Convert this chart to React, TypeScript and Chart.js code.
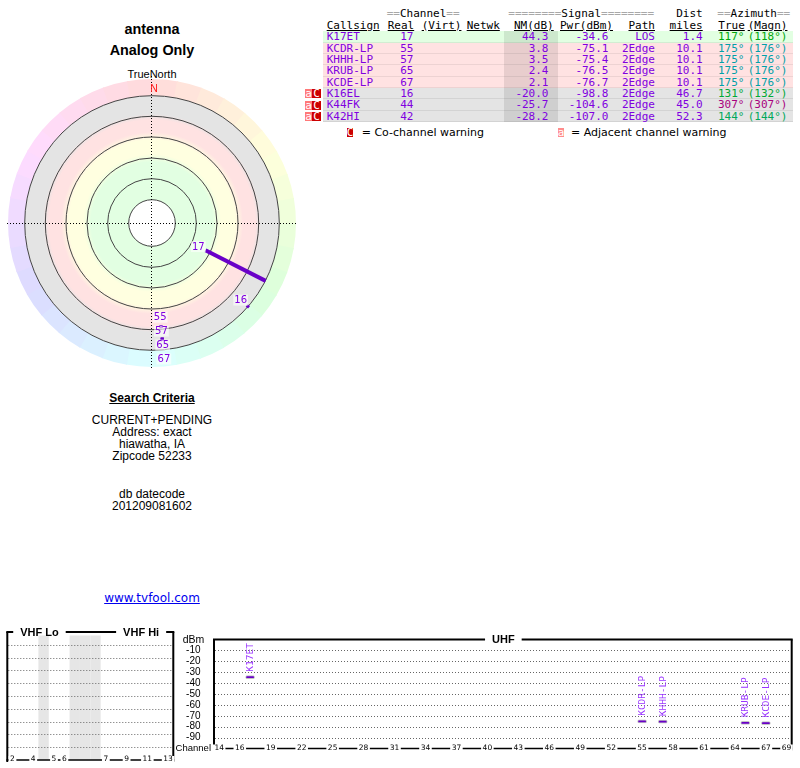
import React, { useEffect, useRef } from 'react';
import { Chart, registerables } from 'chart.js';
Chart.register(...registerables);

const SANS = '"Liberation Sans", Arial, Helvetica, sans-serif';
const MONO = '"DejaVu Sans Mono", monospace';
const DJ = '"DejaVu Sans", sans-serif';
const PURPLE = '#8000e0';
const BAR_PURPLE = '#6a00c8';
const LABEL_PURPLE = '#9933ff';

// ---------- station table ----------
const callsigns = ['K17ET', 'KCDR-LP', 'KHHH-LP', 'KRUB-LP', 'KCDE-LP', 'K16EL', 'K44FK', 'K42HI'];
const realChannels = [17, 55, 57, 65, 67, 16, 44, 42];
const nmDb = [44.3, 3.8, 3.5, 2.4, 2.1, -20.0, -25.7, -28.2];
const pwrDbm = [-34.6, -75.1, -75.4, -76.5, -76.7, -98.8, -104.6, -107.0];
const paths = ['LOS', '2Edge', '2Edge', '2Edge', '2Edge', '2Edge', '2Edge', '2Edge'];
const distMiles = [1.4, 10.1, 10.1, 10.1, 10.1, 46.7, 45.0, 52.3];
const azTrue = [117, 175, 175, 175, 175, 131, 307, 144];
const azMagn = [118, 176, 176, 176, 176, 132, 307, 144];
const rowZone = ['green', 'red', 'red', 'red', 'red', 'gray', 'gray', 'gray'];
const warnings = ['', '', '', '', '', 'aC', 'aC', 'aC'];

// ---------- polar plot (radius in plot units, outer ring = 127.3) ----------
const polarChannels = [17, 55, 57, 65, 67, 16];
const polarBearing = [117, 175, 175, 175, 175, 131];
const polarInner = [60, 102.5, 102.5, 115, 115, 125.5];
const polarOuter = [127.5, 105.5, 105.5, 118, 118, 128.5];
const ringRadii = [23.3, 44.3, 65, 86, 106.7, 127.3];
const hueRingOuter = 144;

// ---------- spectrum ----------
const vhfChannels = [2, 3, 4, 5, 6, 7, 8, 9, 10, 11, 12, 13];
const vhfSlots = [0, 1, 2, 4, 5, 9, 10, 11, 12, 13, 14, 15];
const vhfGapSlots = [3, 6, 7, 8];
const vhfTickChannels = [2, 4, 5, 6, 7, 9, 11, 13];
const uhfTickChannels = [14, 16, 19, 22, 25, 28, 31, 34, 37, 40, 43, 46, 49, 52, 55, 58, 61, 64, 67, 69];
const dbmTicks = [-10, -20, -30, -40, -50, -60, -70, -80, -90];

const ZONES: [number, string][] = [
  [23.3, '#e2ffe2'], [61, '#e2ffe2'], [69, '#ffffe0'], [83, '#ffffe0'], [91, '#ffe2e2'],
  [103, '#ffe2e2'], [109, '#e4e4e4'], [127.3, '#e4e4e4'],
];

const rad = (d: number) => (d * Math.PI) / 180;

const polarPlugin = {
  id: 'polarDecor',
  beforeDatasetsDraw(chart: any) {
    const { ctx, scales } = chart;
    const sx = scales.x, sy = scales.y;
    const cx = sx.getPixelForValue(0), cy = sy.getPixelForValue(0);
    const k = sx.getPixelForValue(1) - cx;
    const ang = (b: number) => rad(b - 90);
    ctx.save();
    const ROut = hueRingOuter * k;
    const RG = ringRadii[ringRadii.length - 1] * k;
    for (let b = 0; b < 360; b += 10) {
      ctx.beginPath();
      ctx.arc(cx, cy, ROut, ang(b), ang(b + 10.5));
      ctx.arc(cx, cy, RG, ang(b + 10.5), ang(b), true);
      ctx.closePath();
      ctx.fillStyle = `hsl(${b + 5}, 100%, 93%)`;
      ctx.fill();
    }
    const r0 = ringRadii[0] * k;
    const g = ctx.createRadialGradient(cx, cy, r0, cx, cy, RG);
    ZONES.forEach(([r, c]) => g.addColorStop(Math.min(1, Math.max(0, (r * k - r0) / (RG - r0))), c));
    ctx.beginPath();
    ctx.arc(cx, cy, RG, 0, Math.PI * 2);
    ctx.fillStyle = g;
    ctx.fill();
    ctx.beginPath();
    ctx.arc(cx, cy, r0, 0, Math.PI * 2);
    ctx.fillStyle = '#fff';
    ctx.fill();
    ctx.strokeStyle = '#444';
    ctx.lineWidth = 1;
    ringRadii.forEach((r) => {
      ctx.beginPath();
      ctx.arc(cx, cy, r * k, 0, Math.PI * 2);
      ctx.stroke();
    });
    ctx.setLineDash([1, 2]);
    ctx.strokeStyle = '#000';
    ctx.beginPath();
    ctx.moveTo(sx.getPixelForValue(-145), Math.round(cy) + 0.5);
    ctx.lineTo(sx.getPixelForValue(145), Math.round(cy) + 0.5);
    ctx.moveTo(Math.round(cx) - 0.5, sy.getPixelForValue(147));
    ctx.lineTo(Math.round(cx) - 0.5, sy.getPixelForValue(-145));
    ctx.stroke();
    ctx.setLineDash([]);
    ctx.fillStyle = '#ff1a1a';
    ctx.font = `10.5px ${SANS}`;
    ctx.textAlign = 'center';
    ctx.textBaseline = 'middle';
    ctx.fillText('N', cx + 2, sy.getPixelForValue(134));
    ctx.restore();
  },
  afterDatasetsDraw(chart: any) {
    const { ctx, scales } = chart;
    const sx = scales.x, sy = scales.y;
    ctx.save();
    ctx.font = `10px ${DJ}`;
    ctx.textAlign = 'center';
    ctx.textBaseline = 'middle';
    let prevB: number | null = null;
    let prevR = 0;
    polarChannels.forEach((ch, i) => {
      const b = polarBearing[i];
      const r = prevB === b ? prevR + 14 : polarInner[i] - 8;
      prevB = b;
      prevR = r;
      const px = sx.getPixelForValue(r * Math.sin(rad(b)));
      const py = sy.getPixelForValue(r * Math.cos(rad(b)));
      const t = String(ch);
      const w = ctx.measureText(t).width;
      ctx.fillStyle = 'rgba(255,255,255,0.6)';
      ctx.fillRect(px - w / 2 - 1, py - 5.5, w + 2, 11);
      ctx.fillStyle = PURPLE;
      ctx.fillText(t, px, py + 0.5);
    });
    ctx.restore();
  },
};

function makePolar(canvas: HTMLCanvasElement) {
  const datasets = polarChannels.map((ch, i) => {
    const b = rad(polarBearing[i]);
    const long = polarOuter[i] - polarInner[i] > 10;
    return {
      label: String(ch),
      data: [
        { x: polarInner[i] * Math.sin(b), y: polarInner[i] * Math.cos(b) },
        { x: polarOuter[i] * Math.sin(b), y: polarOuter[i] * Math.cos(b) },
      ],
      showLine: true,
      borderColor: '#6a00c8',
      borderWidth: long ? 4 : 3,
      borderCapStyle: 'butt',
      pointRadius: 0,
    };
  });
  return new Chart(canvas, {
    type: 'scatter',
    data: { datasets } as any,
    options: {
      animation: false,
      responsive: false,
      layout: { padding: 0 },
      plugins: { legend: { display: false }, tooltip: { enabled: false } },
      scales: {
        x: { type: 'linear', min: -150, max: 150, display: false },
        y: { type: 'linear', min: -150, max: 150, display: false },
      },
    } as any,
    plugins: [polarPlugin],
  });
}

type Title = { text: string; at: number };
function framePlugin(id: string, titles: Title[], ticks: { label: string; at: number }[], gaps: number[], uhf: boolean) {
  return {
    id,
    beforeDatasetsDraw(chart: any) {
      const { ctx, chartArea, scales } = chart;
      const { left, right, top, bottom } = chartArea;
      const sx = scales.x, sy = scales.y;
      ctx.save();
      ctx.fillStyle = '#e6e6e6';
      gaps.forEach((s) => {
        const x0 = sx.getPixelForValue(s - 0.5), x1 = sx.getPixelForValue(s + 0.5);
        ctx.fillRect(x0, top + 3.5, x1 - x0, bottom - top - 3.5);
      });
      ctx.strokeStyle = '#666';
      ctx.lineWidth = 1;
      ctx.setLineDash([1, 2]);
      dbmTicks.forEach((v) => {
        const y = Math.round(sy.getPixelForValue(v)) + 0.5;
        ctx.beginPath();
        ctx.moveTo(left + 1, y);
        ctx.lineTo(right - 1, y);
        ctx.stroke();
      });
      ctx.restore();
    },
    afterDraw(chart: any) {
      const { ctx, chartArea, scales } = chart;
      const { left, right, top, bottom } = chartArea;
      const sx = scales.x;
      ctx.save();
      ctx.strokeStyle = '#000';
      ctx.lineWidth = 2;
      ctx.beginPath();
      ctx.moveTo(left, top);
      ctx.lineTo(left, bottom + 2);
      ctx.moveTo(right, top);
      ctx.lineTo(right, bottom + 2);
      ctx.stroke();
      ctx.font = `bold 11px ${SANS}`;
      ctx.textAlign = 'center';
      ctx.textBaseline = 'middle';
      const segs = titles.map((t) => {
        const c = sx.getPixelForValue(t.at);
        const w = ctx.measureText(t.text).width;
        return { c, a: c - w / 2 - 7, b: c + w / 2 + 7, t: t.text };
      });
      let cur = left - 1;
      ctx.beginPath();
      segs.forEach((s) => {
        ctx.moveTo(cur, top);
        ctx.lineTo(s.a, top);
        cur = s.b;
      });
      ctx.moveTo(cur, top);
      ctx.lineTo(right + 1, top);
      ctx.stroke();
      ctx.fillStyle = '#000';
      segs.forEach((s) => ctx.fillText(s.t, s.c, top + 0.5));
      // bottom axis line with channel labels
      ctx.lineWidth = 1.5;
      ctx.beginPath();
      ctx.moveTo(left - 1, bottom);
      ctx.lineTo(right + 1, bottom);
      ctx.stroke();
      ctx.font = `7.5px ${DJ}`;
      ticks.forEach((t) => {
        const x = sx.getPixelForValue(t.at);
        const w = ctx.measureText(t.label).width;
        ctx.fillStyle = '#fff';
        ctx.fillRect(x - w / 2 - 1.5, bottom - 4, w + 3, 7);
        ctx.fillStyle = '#000';
        ctx.fillText(t.label, x, bottom - 0.5);
      });
      if (uhf) {
        ctx.font = `10.5px ${SANS}`;
        ctx.textAlign = 'center';
        ctx.fillText('dBm', left - 20.5, top + 0.5);
        ctx.font = `9.5px ${SANS}`;
        ctx.textAlign = 'right';
        ctx.fillText('Channel', left - 3, bottom - 0.5);
      }
      ctx.restore();
    },
  };
}

const barLabelPlugin = {
  id: 'barLabels',
  afterDatasetsDraw(chart: any) {
    const { ctx } = chart;
    const meta = chart.getDatasetMeta(0);
    const names: string[] = chart.data.datasets[0].names || [];
    ctx.save();
    ctx.font = `9.5px ${MONO}`;
    ctx.fillStyle = LABEL_PURPLE;
    ctx.textAlign = 'left';
    ctx.textBaseline = 'middle';
    meta.data.forEach((el: any, i: number) => {
      const topY = Math.min(el.y, el.base);
      ctx.save();
      ctx.translate(el.x + 0.5, topY - 4);
      ctx.rotate(-Math.PI / 2);
      ctx.fillText(names[i], 0, 0);
      ctx.restore();
    });
    ctx.restore();
  },
};

function makeUhf(canvas: HTMLCanvasElement) {
  const idx = nmDb.map((v, i) => (v > 0 ? i : -1)).filter((i) => i >= 0);
  const data = idx.map((i) => ({ x: realChannels[i], y: [pwrDbm[i] - 1.4, pwrDbm[i] + 1.4] }));
  return new Chart(canvas, {
    type: 'bar',
    data: {
      datasets: [
        {
          data,
          names: idx.map((i) => callsigns[i]),
          backgroundColor: BAR_PURPLE,
          borderColor: 'rgba(120,120,120,0.45)',
          borderWidth: 1,
          borderSkipped: false,
          borderRadius: 2,
          barThickness: 9,
        },
      ],
    } as any,
    options: {
      animation: false,
      responsive: false,
      layout: { padding: { top: 12, right: 4.3, bottom: 8, left: 0 } },
      plugins: { legend: { display: false }, tooltip: { enabled: false } },
      scales: {
        x: { type: 'linear', min: 13.5, max: 69.5, offset: false, display: false },
        y: {
          type: 'linear',
          min: -100,
          max: 0,
          afterFit(s: any) {
            s.width = 40;
          },
          grid: { display: false, drawTicks: false },
          border: { display: false },
          ticks: {
            stepSize: 10,
            autoSkip: false,
            padding: 13.5,
            color: '#000',
            font: { family: SANS, size: 10 },
            callback: (v: any) => (v === 0 || v === -100 ? '' : String(v)),
          },
        },
      },
    } as any,
    plugins: [
      framePlugin('uhfFrame', [{ text: 'UHF', at: 41.55 }], uhfTickChannels.map((c) => ({ label: String(c), at: c })), [], true),
      barLabelPlugin,
    ],
  });
}

function makeVhf(canvas: HTMLCanvasElement) {
  const slotOf = (ch: number) => vhfSlots[vhfChannels.indexOf(ch)];
  return new Chart(canvas, {
    type: 'bar',
    data: { datasets: [] },
    options: {
      animation: false,
      responsive: false,
      layout: { padding: { top: 12, right: 6.7, bottom: 8, left: 7.3 } },
      plugins: { legend: { display: false }, tooltip: { enabled: false } },
      scales: {
        x: { type: 'linear', min: -0.5, max: 15.5, offset: false, display: false },
        y: { type: 'linear', min: -100, max: 0, display: false },
      },
    } as any,
    plugins: [
      framePlugin(
        'vhfFrame',
        [
          { text: 'VHF Lo', at: 2.6 },
          { text: 'VHF Hi', at: 12.4 },
        ],
        vhfTickChannels.map((c) => ({ label: String(c), at: slotOf(c) })),
        vhfGapSlots,
        false,
      ),
    ],
  });
}

// ---------- HTML helpers ----------
const ROW_TOP = 31.2;
const ROW_H = 11.33;
const ZONE_BG: Record<string, string> = { green: '#e2ffe2', red: '#ffe2e2', gray: '#e4e4e4' };

function Cell(props: { x: number; top: number; align?: 'left' | 'right'; color?: string; children: React.ReactNode; u?: boolean }) {
  const { x, top, align = 'left', color = '#000', children, u } = props;
  const pos: any = align === 'left' ? { left: x } : { right: 800 - x };
  return (
    <div
      style={{
        position: 'absolute',
        top,
        ...pos,
        font: `11px ${MONO}`,
        lineHeight: `${ROW_H}px`,
        whiteSpace: 'pre',
        color,
        textDecoration: u ? 'underline' : 'none',
      }}
    >
      {children}
    </div>
  );
}

function azColor(b: number) {
  return `hsl(${b + 8}, 100%, 33%)`;
}

function Gray({ s }: { s: string }) {
  return <span style={{ color: '#a8a8a8' }}>{s}</span>;
}

function Box({ left, top, w, bg, ch }: { left: number; top: number; w: number; bg: string; ch: string }) {
  return (
    <div
      style={{
        position: 'absolute',
        left,
        top,
        width: w,
        height: 9,
        background: bg,
        color: '#fff',
        font: `11px ${MONO}`,
        lineHeight: '9px',
        textAlign: 'center',
        overflow: 'hidden',
      }}
    >
      {ch}
    </div>
  );
}

export default function App() {
  const polarRef = useRef<HTMLCanvasElement>(null);
  const vhfRef = useRef<HTMLCanvasElement>(null);
  const uhfRef = useRef<HTMLCanvasElement>(null);

  useEffect(() => {
    const charts = [makePolar(polarRef.current!), makeVhf(vhfRef.current!), makeUhf(uhfRef.current!)];
    return () => charts.forEach((c) => c.destroy());
  }, []);

  const H1 = 7.9;
  const H2 = 19.9;

  return (
    <div
      style={{
        position: 'absolute',
        left: 0,
        top: 0,
        width: 800,
        height: 768,
        background: '#fff',
        overflow: 'hidden',
        fontFamily: SANS,
        color: '#000',
      }}
    >
      {/* left column texts */}
      <div style={{ position: 'absolute', left: 2, width: 300, top: 20.5, textAlign: 'center', font: `bold 14.4px ${SANS}`, lineHeight: '17px' }}>antenna</div>
      <div style={{ position: 'absolute', left: 2, width: 300, top: 41.5, textAlign: 'center', font: `bold 14.4px ${SANS}`, lineHeight: '17px' }}>Analog Only</div>
      <div style={{ position: 'absolute', left: 2, width: 300, top: 68, textAlign: 'center', font: `11px ${SANS}`, lineHeight: '13px' }}>TrueNorth</div>

      <canvas ref={polarRef} width={300} height={300} style={{ position: 'absolute', left: 2, top: 73 }} />

      <div style={{ position: 'absolute', left: 2, width: 300, top: 390.5, textAlign: 'center', font: `bold 12px ${SANS}`, lineHeight: '14px', textDecoration: 'underline' }}>
        Search Criteria
      </div>
      <div style={{ position: 'absolute', left: 2, width: 300, top: 413.7, textAlign: 'center', font: `12px ${SANS}`, lineHeight: '12.2px' }}>
        CURRENT+PENDING<br />Address: exact<br />hiawatha, IA<br />Zipcode 52233
      </div>
      <div style={{ position: 'absolute', left: 2, width: 300, top: 488, textAlign: 'center', font: `12px ${SANS}`, lineHeight: '12.2px' }}>
        db datecode<br />201209081602
      </div>
      <div style={{ position: 'absolute', left: 2, width: 300, top: 590.5, textAlign: 'center', font: `12px ${DJ}`, lineHeight: '14px' }}>
        <a href="#" style={{ color: '#0000ee', textDecoration: 'underline' }}>www.tvfool.com</a>
      </div>

      {/* table headers */}
      <Cell x={386.7} top={H1}><Gray s="==" />Channel<Gray s="==" /></Cell>
      <Cell x={508.3} top={H1}><Gray s="========" />Signal<Gray s="========" /></Cell>
      <Cell x={702.7} top={H1} align="right">Dist</Cell>
      <Cell x={717.3} top={H1}><Gray s="==" />Azimuth<Gray s="==" /></Cell>

      <Cell x={326.7} top={H2} u>Callsign</Cell>
      <Cell x={387.7} top={H2} u>Real</Cell>
      <Cell x={421.7} top={H2} u>(Virt)</Cell>
      <Cell x={466.7} top={H2} u>Netwk</Cell>
      <Cell x={514} top={H2} u>NM(dB)</Cell>
      <Cell x={560} top={H2} u>Pwr(dBm)</Cell>
      <Cell x={655} top={H2} align="right" u>Path</Cell>
      <Cell x={702.7} top={H2} align="right" u>miles</Cell>
      <Cell x={718.3} top={H2} u>True</Cell>
      <Cell x={747.7} top={H2} u>(Magn)</Cell>

      {/* rows */}
      {callsigns.map((c, i) => {
        const top = ROW_TOP + i * ROW_H;
        return (
          <React.Fragment key={c}>
            <div
              style={{
                position: 'absolute',
                left: 323.3,
                top,
                width: 469.7,
                height: ROW_H,
                background: ZONE_BG[rowZone[i]],
                borderBottom: '1px solid rgba(0,0,0,0.07)',
                boxSizing: 'border-box',
              }}
            />
            {warnings[i].includes('a') && <Box left={305} top={top + 1.5} w={7.3} bg="#ff7878" ch="a" />}
            {warnings[i].includes('C') && <Box left={312.3} top={top + 1.5} w={8.7} bg="#cc0000" ch="C" />}
          </React.Fragment>
        );
      })}
      <div style={{ position: 'absolute', left: 504, top: ROW_TOP, width: 53.7, height: ROW_H * callsigns.length, background: 'rgba(0,0,0,0.09)' }} />
      {callsigns.map((c, i) => {
        const top = ROW_TOP + i * ROW_H;
        return (
          <React.Fragment key={c + 't'}>
            <Cell x={326.7} top={top} color={PURPLE}>{c}</Cell>
            <Cell x={413.5} top={top} align="right" color={PURPLE}>{String(realChannels[i])}</Cell>
            <Cell x={548.5} top={top} align="right" color={PURPLE}>{nmDb[i].toFixed(1)}</Cell>
            <Cell x={608.5} top={top} align="right" color={PURPLE}>{pwrDbm[i].toFixed(1)}</Cell>
            <Cell x={655} top={top} align="right" color={PURPLE}>{paths[i]}</Cell>
            <Cell x={702.7} top={top} align="right" color={PURPLE}>{distMiles[i].toFixed(1)}</Cell>
            <Cell x={718} top={top} color={azColor(azTrue[i])}>{`${azTrue[i]}°`}</Cell>
            <Cell x={747.7} top={top} color={azColor(azTrue[i])}>{`(${azMagn[i]}°)`}</Cell>
          </React.Fragment>
        );
      })}

      {/* legend */}
      <Box left={346.7} top={127.7} w={6.7} bg="#cc0000" ch="C" />
      <div style={{ position: 'absolute', left: 361.7, top: 127.4, font: `11px ${DJ}`, lineHeight: '11px', whiteSpace: 'pre' }}>= Co-channel warning</div>
      <Box left={557.7} top={127.7} w={6.7} bg="#ff8c8c" ch="a" />
      <div style={{ position: 'absolute', left: 571, top: 127.4, font: `11px ${DJ}`, lineHeight: '11px', whiteSpace: 'pre' }}>= Adjacent channel warning</div>

      {/* spectrum */}
      <canvas ref={vhfRef} width={180} height={148} style={{ position: 'absolute', left: 0, top: 620 }} />
      <canvas ref={uhfRef} width={622} height={148} style={{ position: 'absolute', left: 174, top: 620 }} />
    </div>
  );
}
